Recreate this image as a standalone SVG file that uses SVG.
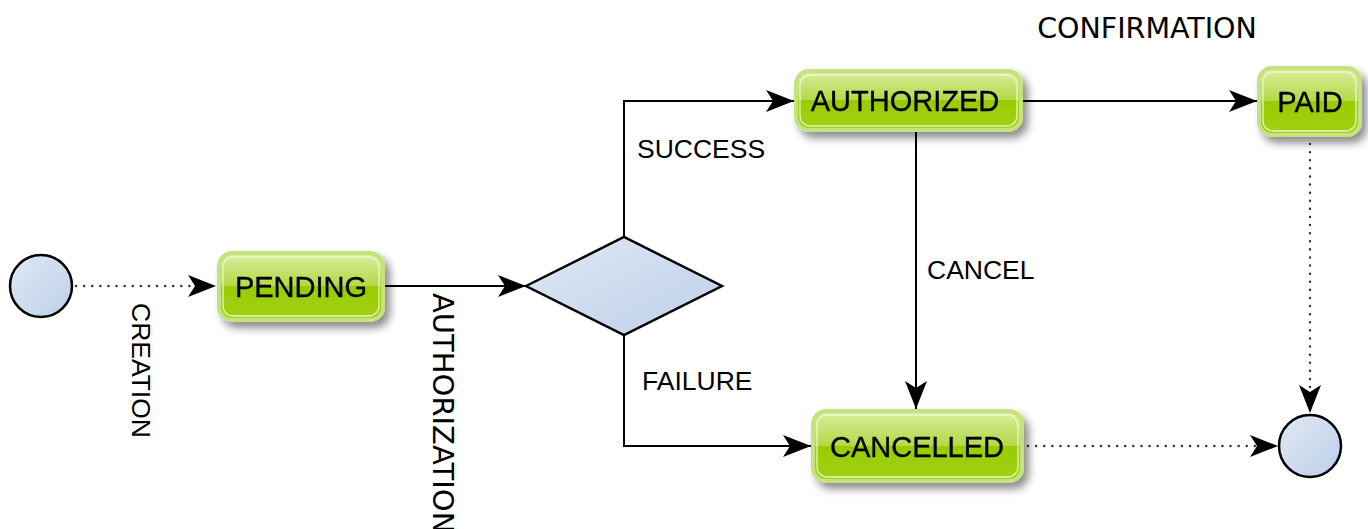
<svg xmlns="http://www.w3.org/2000/svg" width="1368" height="529" viewBox="0 0 1368 529">
<style>
.edge{fill:none;stroke:#000;stroke-width:2}
.dot{fill:none;stroke:#333;stroke-width:2.4;stroke-dasharray:0.1 8;stroke-linecap:round}
.lbl{font-family:"Liberation Sans",Arial,sans-serif;font-size:26.5px;fill:#000}
.vlbl{font-family:"DejaVu Sans",Verdana,sans-serif;fill:#000}
.ntxt{font-family:"Liberation Sans",Arial,sans-serif;font-size:29px;fill:#000;stroke:#000;stroke-width:0.35;text-anchor:middle}
.body{fill:url(#gGreen);stroke:#c6e27f;stroke-width:4}
.inner{fill:none;stroke:#f0f8dc;stroke-width:1.3;opacity:0.9}
.blue{fill:url(#gBlue);stroke:#000;stroke-width:2.5}
</style>
<defs>
<linearGradient id="gGreen" x1="0" y1="0" x2="0" y2="1">
<stop offset="0" stop-color="#dbeea0"/>
<stop offset="0.5" stop-color="#b2d944"/>
<stop offset="0.5" stop-color="#99cc00"/>
<stop offset="1" stop-color="#a2d114"/>
</linearGradient>
<linearGradient id="gBlue" x1="0" y1="0" x2="1" y2="1">
<stop offset="0" stop-color="#e0e9f5"/>
<stop offset="1" stop-color="#bccfe8"/>
</linearGradient>
<filter id="sh" x="-20%" y="-30%" width="150%" height="180%">
<feDropShadow dx="5" dy="6" stdDeviation="4" flood-color="#000" flood-opacity="0.45"/>
</filter>
<marker id="arr" viewBox="0 0 28 22" markerWidth="28" markerHeight="22" refX="28" refY="11" orient="auto" markerUnits="userSpaceOnUse">
<path d="M0,0 L28,11 L0,22 L7,11 Z" fill="#000"/>
</marker>
</defs>

<g id="connectors">
<path class="dot" d="M76,286 L210,286"/>
<path d="M190,286 L216,286" fill="none" stroke="none" marker-end="url(#arr)"/>
<path class="edge" d="M384,286 L526,286" marker-end="url(#arr)"/>
<path class="edge" d="M624,237 L624,101 L794,101" marker-end="url(#arr)"/>
<path class="edge" d="M624,335 L624,446 L811,446" marker-end="url(#arr)"/>
<path class="edge" d="M1022,101 L1257,101" marker-end="url(#arr)"/>
<path class="edge" d="M916,131 L916,409" marker-end="url(#arr)"/>
<path class="dot" d="M1028,446 L1272,446"/>
<path d="M1250,446 L1278,446" fill="none" stroke="none" marker-end="url(#arr)"/>
<path class="dot" d="M1310,144 L1310,408"/>
<path d="M1310,390 L1310,413" fill="none" stroke="none" marker-end="url(#arr)"/>
</g>

<g id="edge-labels">
<text class="vlbl" x="1147" y="38" font-size="28.5" text-anchor="middle">CONFIRMATION</text>
<text class="lbl" x="637" y="158">SUCCESS</text>
<text class="lbl" x="927" y="279">CANCEL</text>
<text class="lbl" x="642" y="390">FAILURE</text>
<text class="lbl" transform="translate(132,303) rotate(90)">CREATION</text>
<text class="vlbl" font-size="29" transform="translate(433,293) rotate(90)">AUTHORIZATION</text>
</g>

<g id="start">
<circle class="blue" cx="41" cy="286" r="31"/>
</g>

<g id="pending" filter="url(#sh)">
<rect class="body" x="219" y="253" width="164" height="67" rx="13"/>
<rect class="inner" x="223" y="257" width="156" height="59" rx="10"/>
<text class="ntxt" x="301" y="297">PENDING</text>
</g>

<g id="decision">
<polygon class="blue" points="526,286 624,237 722,286 624,335"/>
</g>

<g id="authorized" filter="url(#sh)">
<rect class="body" x="796" y="71" width="225" height="59" rx="13"/>
<rect class="inner" x="800" y="75" width="217" height="51" rx="10"/>
<text class="ntxt" x="905" y="111">AUTHORIZED</text>
</g>

<g id="paid" filter="url(#sh)">
<rect class="body" x="1259" y="68" width="101" height="67" rx="13"/>
<rect class="inner" x="1263" y="72" width="93" height="59" rx="10"/>
<text class="ntxt" x="1310" y="112">PAID</text>
</g>

<g id="cancelled" filter="url(#sh)">
<rect class="body" x="813" y="411" width="209" height="70" rx="13"/>
<rect class="inner" x="817" y="415" width="201" height="62" rx="10"/>
<text class="ntxt" x="917" y="457">CANCELLED</text>
</g>

<g id="end">
<circle class="blue" cx="1310" cy="446" r="31"/>
</g>
</svg>
